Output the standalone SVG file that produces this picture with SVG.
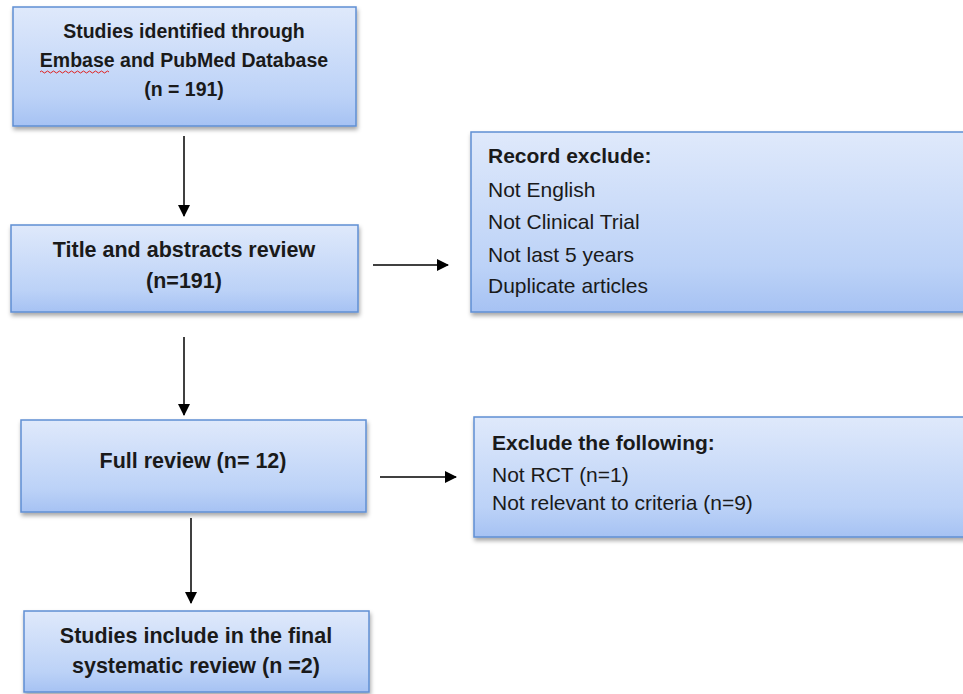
<svg xmlns="http://www.w3.org/2000/svg" width="963" height="694" viewBox="0 0 963 694">
<defs>
<linearGradient id="g" x1="0" y1="0" x2="0" y2="1">
<stop offset="0" stop-color="#dfe9fb"/>
<stop offset="0.75" stop-color="#bcd2f7"/>
<stop offset="1" stop-color="#a6c2f3"/>
</linearGradient>
<filter id="sh" x="-5%" y="-5%" width="110%" height="120%">
<feDropShadow dx="1" dy="3" stdDeviation="2" flood-color="#000" flood-opacity="0.35"/>
</filter>
<marker id="ah" markerWidth="12" markerHeight="12" refX="11" refY="6" orient="auto" markerUnits="userSpaceOnUse">
<path d="M0,0 L12,6 L0,12 Z" fill="#000"/>
</marker>
</defs>
<style>
.box{fill:url(#g);stroke:#5f8fd3;stroke-width:1.5;filter:url(#sh)}
.tb{font-family:"Liberation Sans",Arial,sans-serif;font-weight:bold;font-size:21.5px;fill:#1a1a1a;text-anchor:middle}
.tb1{font-size:19.5px}
.tl{font-family:"Liberation Sans",Arial,sans-serif;font-size:21px;fill:#1a1a1a}
.tlb{font-family:"Liberation Sans",Arial,sans-serif;font-size:21px;font-weight:bold;fill:#1a1a1a}
.c{stroke:#000;stroke-width:1.5;fill:none;marker-end:url(#ah)}
</style>
<rect width="963" height="694" fill="#fff"/>
<g id="n1">
<rect class="box" x="13" y="7" width="343" height="119"/>
<text class="tb tb1" x="184" y="38">Studies identified through</text>
<text class="tb tb1" x="184" y="67">Embase and PubMed Database</text>
<path d="M40,72 q1.5,-2 3,0 t3,0 t3,0 t3,0 t3,0 t3,0 t3,0 t3,0 t3,0 t3,0 t3,0 t3,0 t3,0 t3,0 t3,0 t3,0 t3,0 t3,0 t3,0 t3,0 t3,0 t3,0 t3,0" stroke="#e02020" stroke-width="1" fill="none"/>
<text class="tb tb1" x="184" y="96">(n = 191)</text>
</g>
<g id="n2">
<rect class="box" x="11" y="225" width="347" height="87"/>
<text class="tb" x="184" y="257">Title and abstracts review</text>
<text class="tb" x="184" y="288">(n=191)</text>
</g>
<g id="n3">
<rect class="box" x="21" y="420" width="345" height="92"/>
<text class="tb" x="193" y="468">Full review (n= 12)</text>
</g>
<g id="n4">
<rect class="box" x="24" y="611" width="345" height="81"/>
<text class="tb" x="196" y="643">Studies include in the final</text>
<text class="tb" x="196" y="673">systematic review (n =2)</text>
</g>
<g id="r1">
<rect class="box" x="471" y="132" width="495" height="180"/>
<text class="tlb" x="488" y="163">Record exclude:</text>
<text class="tl" x="488" y="197">Not English</text>
<text class="tl" x="488" y="229">Not Clinical Trial</text>
<text class="tl" x="488" y="262">Not last 5 years</text>
<text class="tl" x="488" y="293">Duplicate articles</text>
</g>
<g id="r2">
<rect class="box" x="474" y="417" width="495" height="120"/>
<text class="tlb" x="492" y="450">Exclude the following:</text>
<text class="tl" x="492" y="482">Not RCT (n=1)</text>
<text class="tl" x="492" y="510">Not relevant to criteria (n=9)</text>
</g>
<g id="connectors">
<line class="c" x1="184" y1="136" x2="184" y2="216"/>
<line class="c" x1="184" y1="337" x2="184" y2="415"/>
<line class="c" x1="191" y1="518" x2="191" y2="603"/>
<line class="c" x1="373" y1="265" x2="448" y2="265"/>
<line class="c" x1="380" y1="477" x2="456" y2="477"/>
</g>
</svg>
